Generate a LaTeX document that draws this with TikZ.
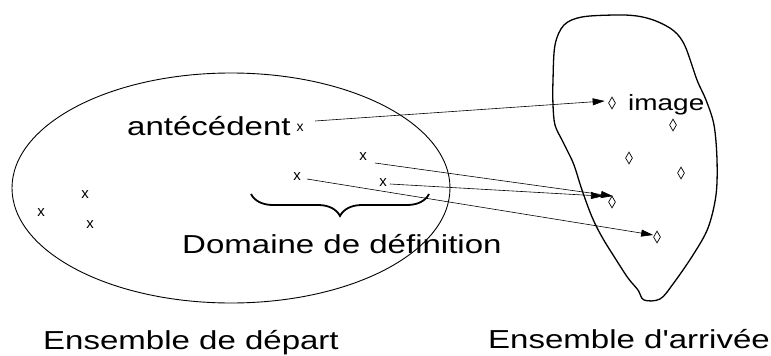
\documentclass[tikz,border=0pt]{standalone}
\usepackage{fontspec}
\setmainfont[FakeStretch=1.27, Ligatures=TeXOff]{Liberation Sans}
\newfontfamily\xfont{Liberation Sans}
\usetikzlibrary{shapes.geometric,arrows.meta,decorations.pathreplacing}
\tikzset{
  lbl/.style={inner sep=0pt, anchor=base west, font=\fontsize{26}{30}\selectfont},
  xmark/.style={inner sep=0pt, font=\xfont\fontsize{15}{15}\selectfont},
  img/.style={diamond, draw, line width=0.7pt, inner sep=0pt, minimum width=7pt, minimum height=12pt},
  arr/.style={line width=0.6pt, -{Triangle[length=12pt,width=7pt]}},
}
\begin{document}
\begin{tikzpicture}[x=1pt,y=-1pt]
\useasboundingbox (0,0) rectangle (771,356);
% departure set
\draw[line width=0.9pt] (231,188) ellipse [x radius=219, y radius=115];
% arrival set
\draw[line width=1.3pt] plot[smooth cycle, tension=0.55] coordinates {
 (553,80) (555,45) (564,25) (582,17) (615,15) (637,16) (656,21) (674,31) (685,46)
 (697,80) (706,100) (714,125) (717,160) (716,195) (708,228) (693,255) (673,284)
 (660,299) (644,300) (638,290) (628,278) (615,258) (602,237) (592,217) (582,190)
 (574,165) (567,150) (562,140) (555,125) (553,105)};
% elements of departure set
\node[xmark, font=\xfont\fontsize{14}{14}\selectfont] (xa) at (300,128) {x};
\node[xmark] (xb) at (363,157) {x};
\node[xmark] (xc) at (383,183) {x};
\node[xmark] (xd) at (297,177) {x};
\node[xmark] (xe) at (85,195) {x};
\node[xmark] (xf) at (41,213) {x};
\node[xmark] (xg) at (90,225) {x};
% elements of arrival set
\node[img] (d1) at (612,103) {};
\node[img] (d2) at (673,125) {};
\node[img] (d3) at (629,158) {};
\node[img] (d4) at (681,173) {};
\node[img] (d5) at (612,202) {};
\node[img] (d6) at (657,237) {};
% labels
\node[lbl] (ant) at (127,135) {antécédent};
\node[lbl, font=\fontsize{22}{26}\selectfont] (im) at (628,110) {image};
\node[lbl] (dom) at (182,253) {Domaine de définition};
\node[lbl] (dep) at (43,349) {Ensemble de départ};
\node[lbl] (arv) at (488,348) {Ensemble d'arrivée};
% brace
\draw[line width=1.8pt, decorate, decoration={brace, mirror, amplitude=22pt}] (251,194) -- (429,194);
% arrows
\draw[arr] ([shift={(15,-7)}]xa.center) -- ([shift={(-3.5,-2)}]d1.west);
\draw[arr] ([shift={(12,6)}]xb.center) -- ([shift={(1,0.5)}]d5.north);
\draw[arr] ([shift={(7,1)}]xc.center) -- ([shift={(-9,0.5)}]d5.north);
\draw[arr] ([shift={(10,2)}]xd.center) -- ([shift={(0,-2)}]d6.west);
\end{tikzpicture}
\end{document}
